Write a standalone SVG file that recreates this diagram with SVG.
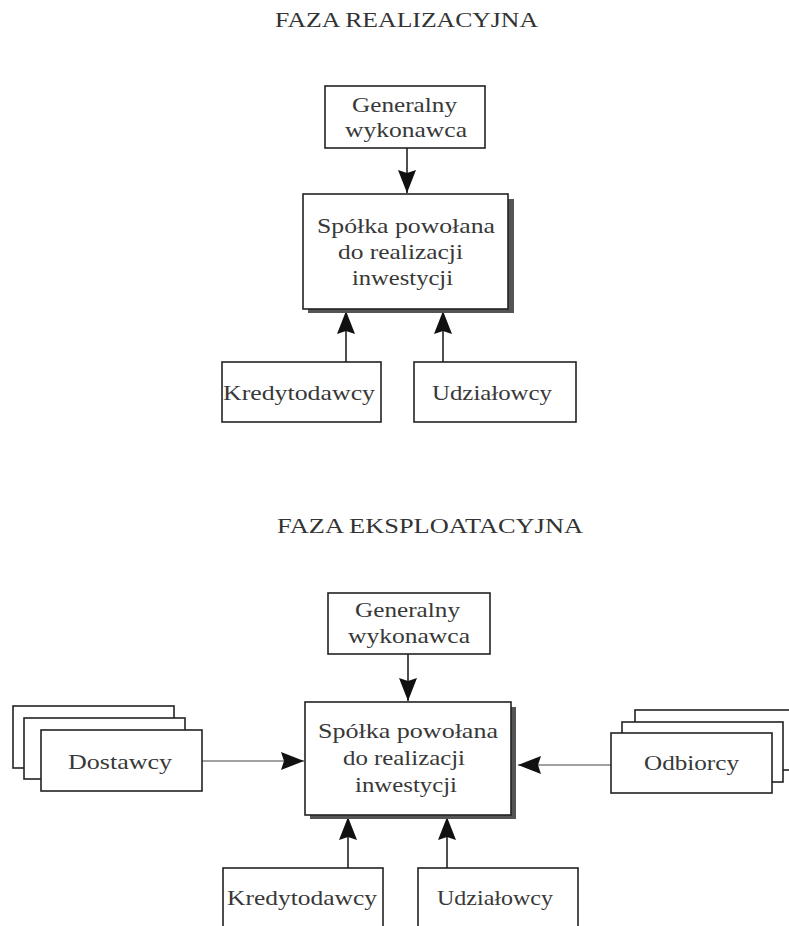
<svg xmlns="http://www.w3.org/2000/svg" width="789" height="926" viewBox="0 0 789 926">
<defs>
<style>
.box{fill:#fff;stroke:#222;stroke-width:1.6}
.shadow{fill:#555;stroke:none}
.t{font-family:"Liberation Serif","Times New Roman",serif;font-size:21px;fill:#383838;text-anchor:start}
.title{font-family:"Liberation Serif","Times New Roman",serif;font-size:20px;fill:#333}
.c{stroke:#222;stroke-width:1.6;fill:none}
.thin{stroke:#444;stroke-width:1.2;fill:none}
</style>
<marker id="ah" markerUnits="userSpaceOnUse" markerWidth="24" markerHeight="20" refX="23" refY="10" orient="auto">
<path d="M0,1 L23,10 L0,19 L3,10 z" fill="#111"/>
</marker>
</defs>
<rect width="789" height="926" fill="#fff"/>

<text class="title" x="275" y="27" textLength="263" lengthAdjust="spacingAndGlyphs">FAZA REALIZACYJNA</text>
<text class="title" x="277" y="533" textLength="306" lengthAdjust="spacingAndGlyphs">FAZA EKSPLOATACYJNA</text>

<g id="connectors">
<line class="c" x1="407" y1="148" x2="407" y2="193" marker-end="url(#ah)"/>
<line class="c" x1="346" y1="362" x2="346" y2="311" marker-end="url(#ah)"/>
<line class="c" x1="443" y1="362" x2="443" y2="311" marker-end="url(#ah)"/>
<line class="c" x1="408" y1="654" x2="408" y2="701" marker-end="url(#ah)"/>
<line class="c" x1="348" y1="868" x2="348" y2="817" marker-end="url(#ah)"/>
<line class="c" x1="447" y1="868" x2="447" y2="817" marker-end="url(#ah)"/>
<line class="thin" x1="202" y1="761" x2="304" y2="761" marker-end="url(#ah)"/>
<line class="thin" x1="611" y1="765" x2="518" y2="765" marker-end="url(#ah)"/>
</g>

<g id="gw1">
<rect class="box" x="325" y="86" width="160" height="62"/>
<text class="t" x="352" y="112" textLength="105" lengthAdjust="spacingAndGlyphs">Generalny</text>
<text class="t" x="345" y="137" textLength="122" lengthAdjust="spacingAndGlyphs">wykonawca</text>
</g>

<g id="spv1">
<rect class="shadow" x="308" y="199" width="206" height="114"/>
<rect class="box" x="303" y="194" width="205" height="115"/>
<text class="t" x="317" y="233" textLength="178" lengthAdjust="spacingAndGlyphs">Spółka powołana</text>
<text class="t" x="338" y="259" textLength="125" lengthAdjust="spacingAndGlyphs">do realizacji</text>
<text class="t" x="352" y="285" textLength="101" lengthAdjust="spacingAndGlyphs">inwestycji</text>
</g>

<g id="kred1">
<rect class="box" x="222" y="362" width="159" height="60"/>
<text class="t" x="223" y="400" textLength="152" lengthAdjust="spacingAndGlyphs">Kredytodawcy</text>
</g>

<g id="udz1">
<rect class="box" x="414" y="362" width="162" height="60"/>
<text class="t" x="432" y="400" textLength="120" lengthAdjust="spacingAndGlyphs">Udziałowcy</text>
</g>

<g id="gw2">
<rect class="box" x="328" y="593" width="162" height="61"/>
<text class="t" x="355" y="617" textLength="105" lengthAdjust="spacingAndGlyphs">Generalny</text>
<text class="t" x="348" y="643" textLength="122" lengthAdjust="spacingAndGlyphs">wykonawca</text>
</g>

<g id="spv2">
<rect class="shadow" x="310" y="707" width="206" height="112"/>
<rect class="box" x="305" y="702" width="206" height="113"/>
<text class="t" x="318" y="738" textLength="180" lengthAdjust="spacingAndGlyphs">Spółka powołana</text>
<text class="t" x="343" y="765" textLength="122" lengthAdjust="spacingAndGlyphs">do realizacji</text>
<text class="t" x="355" y="792" textLength="102" lengthAdjust="spacingAndGlyphs">inwestycji</text>
</g>

<g id="dostawcy">
<rect class="box" x="13" y="706" width="161" height="62"/>
<rect class="box" x="24" y="718" width="161" height="61"/>
<rect class="box" x="41" y="730" width="161" height="61"/>
<text class="t" x="68" y="769" textLength="104" lengthAdjust="spacingAndGlyphs">Dostawcy</text>
</g>

<g id="odbiorcy">
<rect class="box" x="635" y="710" width="170" height="60"/>
<rect class="box" x="622" y="722" width="161" height="60"/>
<rect class="box" x="611" y="733" width="161" height="60"/>
<text class="t" x="644" y="770" textLength="95" lengthAdjust="spacingAndGlyphs">Odbiorcy</text>
</g>

<g id="kred2">
<rect class="box" x="223" y="868" width="160" height="80"/>
<text class="t" x="227" y="905" textLength="150" lengthAdjust="spacingAndGlyphs">Kredytodawcy</text>
</g>

<g id="udz2">
<rect class="box" x="418" y="868" width="160" height="80"/>
<text class="t" x="437" y="905" textLength="116" lengthAdjust="spacingAndGlyphs">Udziałowcy</text>
</g>
</svg>
